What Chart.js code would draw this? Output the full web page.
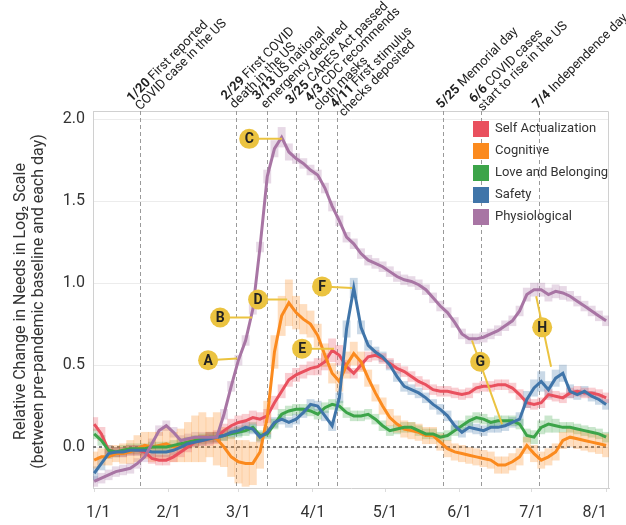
<!DOCTYPE html>
<html>
<head>
<meta charset="utf-8">
<script src="https://cdn.jsdelivr.net/npm/chart.js@4/dist/chart.umd.min.js"></script>
<style>
  body { margin: 0; background: #fff; }
  canvas { display: block; }
</style>
</head>
<body>
<canvas id="needsChart" width="626" height="525"></canvas>
<script>
// day of year 2020 (0 = Jan 1)
var days = [0,3,6,9,12,15,18,21,24,27,30,33,
  36,39,42,45,48,51,54,57,60,63,66,69,
  72,75,78,81,84,87,90,93,96,99,102,105,
  108,111,114,117,120,123,126,129,132,135,138,141,
  144,147,150,153,156,159,162,165,168,171,174,177,
  180,183,186,189,192,195,198,201,204,207,210,213];

var selfActualization = [0.14,0.08,-0.02,-0.03,-0.03,-0.02,-0.02,-0.03,-0.07,-0.08,-0.08,-0.06,
  -0.03,0.00,0.03,0.04,0.05,0.06,0.10,0.13,0.15,0.16,0.18,0.17,
  0.19,0.27,0.34,0.41,0.44,0.46,0.48,0.49,0.52,0.59,0.56,0.49,
  0.45,0.50,0.55,0.56,0.54,0.51,0.48,0.46,0.43,0.40,0.38,0.35,
  0.34,0.34,0.33,0.32,0.33,0.36,0.37,0.37,0.38,0.38,0.36,0.32,
  0.27,0.26,0.27,0.32,0.31,0.30,0.33,0.34,0.33,0.33,0.32,0.30];
var cognitive = [-0.08,-0.06,-0.06,-0.04,-0.04,-0.03,-0.01,0.01,0.00,0.01,0.02,0.00,
  0.01,0.03,0.05,0.06,0.06,0.05,0.00,-0.06,-0.09,-0.10,-0.10,-0.03,
  0.18,0.58,0.80,0.88,0.82,0.78,0.75,0.68,0.56,0.45,0.40,0.50,
  0.57,0.52,0.42,0.33,0.25,0.18,0.14,0.11,0.10,0.09,0.07,0.07,
  0.03,-0.01,-0.03,-0.04,-0.05,-0.06,-0.07,-0.08,-0.11,-0.11,-0.09,-0.06,
  0.01,-0.04,-0.08,-0.06,-0.03,0.04,0.06,0.05,0.04,0.03,0.02,0.01];
var loveBelonging = [0.08,0.04,-0.02,-0.03,-0.02,-0.01,-0.01,-0.01,0.00,0.00,0.00,0.01,
  0.02,0.03,0.04,0.05,0.06,0.06,0.07,0.08,0.09,0.10,0.12,0.07,
  0.08,0.14,0.20,0.22,0.23,0.23,0.22,0.20,0.24,0.26,0.25,0.21,
  0.19,0.19,0.20,0.17,0.13,0.10,0.11,0.12,0.12,0.10,0.08,0.08,
  0.06,0.07,0.10,0.13,0.16,0.18,0.17,0.15,0.16,0.16,0.16,0.14,
  0.07,0.06,0.12,0.14,0.13,0.12,0.12,0.11,0.10,0.09,0.08,0.06];
var safety = [-0.16,-0.10,-0.04,-0.03,-0.03,-0.02,-0.02,-0.02,-0.03,-0.03,-0.03,-0.02,
  0.00,0.02,0.03,0.04,0.05,0.06,0.07,0.09,0.10,0.12,0.11,0.06,
  0.09,0.15,0.17,0.15,0.17,0.21,0.26,0.25,0.19,0.13,0.30,0.72,
  0.97,0.73,0.62,0.58,0.55,0.50,0.43,0.37,0.35,0.33,0.30,0.26,
  0.23,0.19,0.13,0.09,0.12,0.11,0.10,0.12,0.12,0.13,0.15,0.17,
  0.29,0.36,0.40,0.35,0.42,0.45,0.34,0.32,0.34,0.31,0.29,0.26];
var physiological = [-0.21,-0.19,-0.17,-0.15,-0.14,-0.13,-0.10,-0.06,0.02,0.10,0.13,0.09,
  0.04,0.05,0.06,0.06,0.06,0.06,0.20,0.37,0.53,0.65,0.84,1.22,
  1.65,1.82,1.89,1.80,1.76,1.73,1.69,1.66,1.58,1.47,1.38,1.28,
  1.24,1.18,1.14,1.12,1.10,1.07,1.04,1.02,1.01,0.99,0.96,0.91,
  0.86,0.82,0.76,0.69,0.66,0.66,0.67,0.69,0.71,0.74,0.77,0.83,
  0.93,0.96,0.96,0.93,0.95,0.94,0.92,0.89,0.86,0.83,0.80,0.77];

// half width of the shaded daily range
var selfActualizationSpread = [0.04,0.04,0.03,0.03,0.03,0.03,0.03,0.03,0.03,0.03,0.03,0.03,
  0.03,0.03,0.03,0.03,0.04,0.04,0.04,0.04,0.04,0.04,0.04,0.04,
  0.04,0.04,0.04,0.04,0.04,0.04,0.04,0.05,0.05,0.07,0.06,0.04,
  0.03,0.03,0.03,0.03,0.03,0.03,0.03,0.03,0.03,0.03,0.03,0.03,
  0.03,0.03,0.03,0.03,0.03,0.03,0.03,0.03,0.03,0.03,0.03,0.03,
  0.03,0.03,0.03,0.03,0.03,0.03,0.03,0.03,0.03,0.03,0.03,0.03];
var cognitiveSpread = [0.05,0.05,0.05,0.05,0.06,0.07,0.08,0.08,0.09,0.08,0.10,0.09,
  0.10,0.12,0.14,0.15,0.12,0.16,0.12,0.12,0.13,0.14,0.13,0.10,
  0.10,0.10,0.12,0.14,0.10,0.09,0.08,0.07,0.07,0.06,0.06,0.08,
  0.07,0.06,0.05,0.05,0.05,0.05,0.05,0.05,0.05,0.05,0.05,0.05,
  0.05,0.05,0.05,0.05,0.05,0.05,0.05,0.05,0.05,0.05,0.05,0.05,
  0.05,0.05,0.05,0.05,0.05,0.05,0.06,0.06,0.06,0.06,0.06,0.07];
var loveBelongingSpread = [0.03,0.03,0.03,0.03,0.03,0.03,0.03,0.03,0.03,0.03,0.03,0.03,
  0.03,0.03,0.03,0.03,0.03,0.03,0.03,0.03,0.03,0.03,0.03,0.03,
  0.03,0.03,0.03,0.03,0.03,0.03,0.03,0.03,0.03,0.03,0.03,0.03,
  0.03,0.03,0.03,0.03,0.03,0.03,0.03,0.03,0.03,0.03,0.03,0.03,
  0.03,0.03,0.03,0.03,0.03,0.03,0.03,0.03,0.03,0.03,0.03,0.03,
  0.04,0.04,0.04,0.05,0.04,0.03,0.03,0.03,0.03,0.03,0.03,0.03];
var safetySpread = [0.04,0.04,0.03,0.03,0.03,0.03,0.03,0.03,0.03,0.03,0.03,0.03,
  0.03,0.03,0.03,0.03,0.03,0.03,0.03,0.03,0.03,0.03,0.03,0.03,
  0.03,0.03,0.03,0.03,0.03,0.03,0.03,0.03,0.03,0.03,0.03,0.05,
  0.06,0.04,0.03,0.03,0.03,0.03,0.03,0.03,0.03,0.03,0.03,0.03,
  0.03,0.03,0.03,0.03,0.03,0.03,0.03,0.03,0.03,0.03,0.03,0.04,
  0.05,0.05,0.06,0.05,0.05,0.05,0.04,0.03,0.03,0.03,0.03,0.03];
var physiologicalSpread = [0.03,0.03,0.03,0.03,0.03,0.03,0.03,0.03,0.03,0.03,0.03,0.03,
  0.03,0.03,0.03,0.03,0.03,0.03,0.03,0.03,0.03,0.03,0.03,0.03,
  0.04,0.05,0.06,0.05,0.03,0.03,0.03,0.03,0.03,0.03,0.03,0.03,
  0.03,0.03,0.03,0.03,0.03,0.03,0.03,0.03,0.03,0.03,0.03,0.03,
  0.03,0.03,0.03,0.03,0.03,0.03,0.03,0.03,0.03,0.03,0.03,0.03,
  0.04,0.04,0.04,0.04,0.04,0.04,0.03,0.03,0.03,0.03,0.03,0.03];

var seriesNames = ['Self Actualization', 'Cognitive', 'Love and Belonging', 'Safety', 'Physiological'];
var seriesColors = ['#e9505e', '#fb8a1e', '#3ca449', '#4075a9', '#a875a4'];
var seriesValues = [selfActualization, cognitive, loveBelonging, safety, physiological];
var seriesSpreads = [selfActualizationSpread, cognitiveSpread, loveBelongingSpread, safetySpread, physiologicalSpread];

var xTickDays = [0, 31, 60, 91, 121, 152, 182, 213];
var xTickLabels = ['1/1', '2/1', '3/1', '4/1', '5/1', '6/1', '7/1', '8/1'];
var yTicks = [0, 0.5, 1, 1.5, 2];

// events: day of year, bold date, rest of the text lines
var eventDays = [19, 59, 72, 84, 93, 101, 145, 161, 185];
var eventDates = ['1/20', '2/29', '3/13', '3/25', '4/3', '4/11', '5/25', '6/6', '7/4'];
var eventTexts = [
  ['First reported', 'COVID case in the US'],
  ['First COVID', 'death in the US'],
  ['US national', 'emergency declared'],
  ['CARES Act passed'],
  ['CDC recommends', 'cloth masks'],
  ['First stimulus', 'checks deposited'],
  ['Memorial day'],
  ['COVID cases', 'start to rise in the US'],
  ['Independence day']
];

// letter markers: circle at (day, value), leader line from (day, value) to (day, value)
var markerLetters = ['A', 'B', 'C', 'D', 'E', 'F', 'G', 'H'];
var markerAt = [[47.4, 0.53], [52.4, 0.79], [64.5, 1.88], [68.2, 0.90], [86.5, 0.60], [94.8, 0.98], [160.6, 0.52], [186.4, 0.73]];
var markerFrom = [[47.4, 0.53], [52.4, 0.79], [64.5, 1.88], [68.2, 0.90], [86.5, 0.60], [94.8, 0.98], [157.2, 0.65], [183.9, 0.92]];
var markerTo = [[59.5, 0.54], [65.7, 0.79], [78.2, 1.88], [80.3, 0.90], [99.8, 0.60], [107.3, 0.97], [169.7, 0.14], [190.1, 0.49]];

// offset (px, perpendicular to the rotated text) of each event label's first line
var eventLabelShift = [-12, -14.5, -14.5, -8.5, -11.5, -3, -2.5, -10.5, -2.5];

function hexA(hex, a) {
  var n = parseInt(hex.slice(1), 16);
  return 'rgba(' + (n >> 16) + ',' + ((n >> 8) & 255) + ',' + (n & 255) + ',' + a + ')';
}

var datasets = [];
seriesNames.forEach(function (name, i) {
  datasets.push({
    type: 'bar',
    label: name + ' range',
    data: days.map(function (d, k) {
      return { x: d, y: [seriesValues[i][k] - seriesSpreads[i][k], seriesValues[i][k] + seriesSpreads[i][k]] };
    }),
    backgroundColor: hexA(seriesColors[i], 0.28),
    borderWidth: 0,
    grouped: false,
    barPercentage: 1,
    categoryPercentage: 1,
    order: 10
  });
});
seriesNames.forEach(function (name, i) {
  datasets.push({
    type: 'line',
    label: name,
    data: days.map(function (d, k) { return { x: d, y: seriesValues[i][k] }; }),
    borderColor: seriesColors[i],
    borderWidth: 3,
    pointRadius: 0,
    tension: 0,
    fill: false,
    order: 5 - i
  });
});

var decorations = {
  id: 'decorations',
  beforeDatasetsDraw: function (chart) {
    var c = chart.ctx, a = chart.chartArea, xs = chart.scales.x, ys = chart.scales.y;
    c.save();
    // plot frame top/right
    c.strokeStyle = '#d0d0d0';
    c.lineWidth = 1;
    c.beginPath();
    c.moveTo(a.left, a.top + 0.5); c.lineTo(a.right - 0.5, a.top + 0.5); c.lineTo(a.right - 0.5, a.bottom);
    c.stroke();
    // event lines
    c.strokeStyle = '#9a9a9a';
    c.setLineDash([4, 3]);
    eventDays.forEach(function (d) {
      var x = Math.round(xs.getPixelForValue(d)) + 0.5;
      c.beginPath(); c.moveTo(x, a.top); c.lineTo(x, a.bottom); c.stroke();
    });
    // zero line
    var y0 = ys.getPixelForValue(0);
    c.strokeStyle = '#7a7a7a';
    c.lineWidth = 2;
    c.setLineDash([3, 3]);
    c.beginPath(); c.moveTo(a.left, y0); c.lineTo(a.right, y0); c.stroke();
    c.restore();
  },
  afterDatasetsDraw: function (chart) {
    var c = chart.ctx, a = chart.chartArea, xs = chart.scales.x, ys = chart.scales.y;
    c.save();
    // letter markers
    markerLetters.forEach(function (m, i) {
      c.strokeStyle = '#ebc340';
      c.lineWidth = 2;
      c.beginPath();
      c.moveTo(xs.getPixelForValue(markerFrom[i][0]), ys.getPixelForValue(markerFrom[i][1]));
      c.lineTo(xs.getPixelForValue(markerTo[i][0]), ys.getPixelForValue(markerTo[i][1]));
      c.stroke();
    });
    markerLetters.forEach(function (m, i) {
      var cx = xs.getPixelForValue(markerAt[i][0]), cy = ys.getPixelForValue(markerAt[i][1]);
      c.fillStyle = '#ebc340';
      c.beginPath(); c.arc(cx, cy, 10, 0, Math.PI * 2); c.fill();
      c.fillStyle = '#222';
      c.font = 'bold 14px Roboto';
      c.textAlign = 'center';
      c.textBaseline = 'middle';
      c.fillText(m, cx, cy + 1);
    });
    // legend
    c.textAlign = 'left';
    c.textBaseline = 'middle';
    c.font = '13px Roboto';
    seriesNames.forEach(function (name, i) {
      var yy = 129 + i * 22;
      c.fillStyle = seriesColors[i];
      c.fillRect(473, yy - 8, 16, 16);
      c.fillStyle = '#333';
      c.fillText(name, 495, yy);
    });
    // x tick labels, first and last kept inside the frame
    c.font = '16px Roboto';
    c.fillStyle = '#333';
    xTickDays.forEach(function (d, i) {
      var x = xs.getPixelForValue(d);
      if (i === 0) { c.textAlign = 'center'; x += 4; }
      else if (i === xTickDays.length - 1) { c.textAlign = 'right'; x += 1; }
      else { c.textAlign = 'center'; }
      c.fillText(xTickLabels[i], x, a.bottom + 25);
    });
    // event labels, rotated 45 degrees above the top of each line
    c.textAlign = 'left';
    c.textBaseline = 'alphabetic';
    eventDays.forEach(function (d, i) {
      var x = xs.getPixelForValue(d);
      var lines = eventTexts[i];
      c.save();
      c.translate(x, a.top);
      c.rotate(-Math.PI / 4);
      lines.forEach(function (txt, k) {
        var ly = eventLabelShift[i] + k * 12;
        var lx = 0.5;
        c.fillStyle = '#222';
        if (k === 0) {
          c.font = 'bold 13px Roboto';
          c.fillText(eventDates[i], lx, ly);
          lx += c.measureText(eventDates[i] + ' ').width;
        }
        c.font = '13px Roboto';
        c.fillText(txt, lx, ly);
      });
      c.restore();
    });
    // y axis title
    c.fillStyle = '#333';
    c.font = '16px Roboto';
    c.textAlign = 'center';
    c.textBaseline = 'middle';
    [['Relative Change in Needs in Log\u2082 Scale', 21], ['(between pre-pandemic baseline and each day)', 39]].forEach(function (t) {
      c.save();
      c.translate(t[1], (a.top + a.bottom) / 2 + 2);
      c.rotate(-Math.PI / 2);
      c.fillText(t[0], 0, 0);
      c.restore();
    });
    c.restore();
  }
};

var ctx = document.getElementById('needsChart');
var needsChart = new Chart(ctx, {
  type: 'line',
  data: { datasets: datasets },
  options: {
    responsive: false,
    animation: false,
    layout: { padding: { top: 111, right: 17, left: 0, bottom: 0 } },
    plugins: { legend: { display: false }, tooltip: { enabled: false } },
    scales: {
      x: {
        type: 'linear',
        min: -0.5,
        max: 214.2,
        offset: false,
        afterBuildTicks: function (s) { s.ticks = xTickDays.map(function (v) { return { value: v }; }); },
        afterFit: function (s) { s.height = 37; },
        ticks: { display: false },
        grid: { drawOnChartArea: false, tickLength: 4, color: '#dcdcdc', offset: false },
        border: { color: '#d0d0d0' }
      },
      y: {
        min: -0.25,
        max: 2.05,
        afterBuildTicks: function (s) { s.ticks = yTicks.map(function (v) { return { value: v }; }); },
        afterFit: function (s) { s.width = 93; },
        ticks: {
          padding: 8, color: '#333',
          font: { family: 'Roboto', size: 16 },
          callback: function (v) { return v.toFixed(1); }
        },
        grid: { color: '#ececec', drawTicks: false },
        border: { color: '#d0d0d0' }
      }
    }
  },
  plugins: [decorations]
});
</script>
</body>
</html>
